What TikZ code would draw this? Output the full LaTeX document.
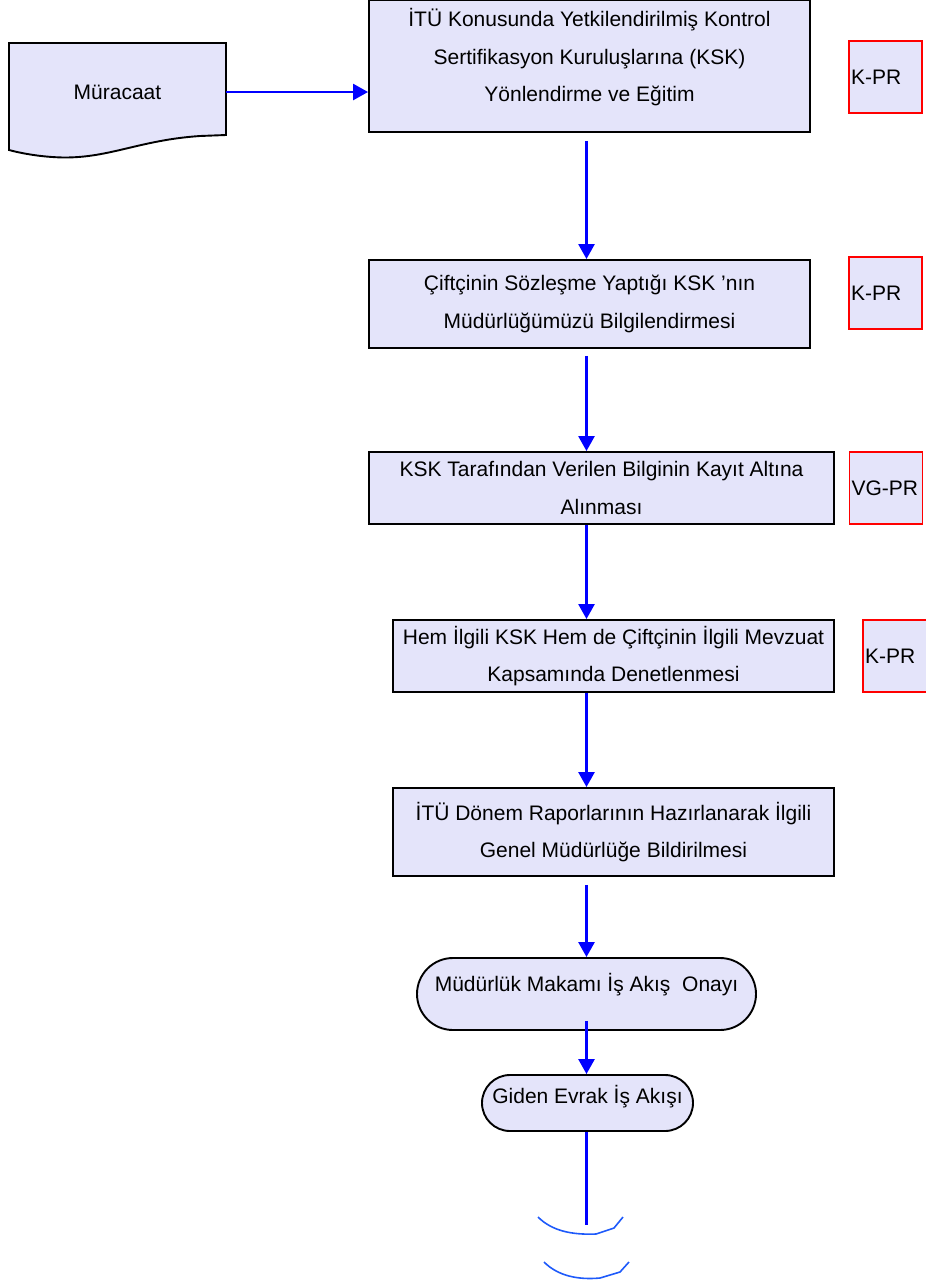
\documentclass[tikz,border=0pt]{standalone}
\usepackage{fontspec}
\setmainfont{Liberation Sans}
\usetikzlibrary{arrows.meta,shapes.misc}
\definecolor{lila}{RGB}{228,228,250}
\definecolor{mavi}{RGB}{0,0,255}
\definecolor{acikmavi}{RGB}{30,90,250}

\begin{document}
\begin{tikzpicture}[x=1pt,y=-1pt,
    metin/.style={font=\fontsize{21}{37.5}\selectfont,align=center,text=black},
    surec/.style={draw=black,line width=1.9pt,fill=lila,rectangle,inner sep=2pt,metin},
    kod/.style={draw=red,line width=1.6pt,fill=lila,rectangle,inner sep=2pt,metin,align=left,text width=69pt,minimum height=72pt},
    uc/.style={draw=black,line width=1.9pt,fill=lila,rounded rectangle,inner sep=2pt,metin},
    ok/.style={draw=mavi,line width=2.6pt,-{Triangle[length=15pt,width=16pt]}},
    kopuk/.style={draw=acikmavi,line width=1.6pt}]
    \useasboundingbox (0,0) rectangle (926,1283);
    % belge
    \draw[line width=1.9pt,fill=lila] (9,43) -- (226,43) -- (226,135) -- (200,136) .. controls (140,140) and (110,158) .. (63,157.5) .. controls (40,157) and (20,153) .. (9,150) -- cycle;
    \node[metin,minimum width=217pt,minimum height=98pt,inner sep=0pt] (muracaat) at (117.5,92) {Müracaat};
    % adimlar
    \node[surec,minimum width=441pt,minimum height=132pt,label={[metin,yshift=8.5pt]center:{İTÜ Konusunda Yetkilendirilmiş Kontrol\\Sertifikasyon Kuruluşlarına (KSK)\\Yönlendirme ve Eğitim}}] (yon) at (589.5,66) {};
    \node[surec,minimum width=441pt,minimum height=88pt] (cift) at (589.5,304) {Çiftçinin Sözleşme Yaptığı KSK ’nın\\Müdürlüğümüzü Bilgilendirmesi};
    \node[surec,minimum width=465pt,minimum height=72pt] (kayit) at (601.5,488) {KSK Tarafından Verilen Bilginin Kayıt Altına\\Alınması};
    \node[surec,minimum width=441pt,minimum height=72pt] (denet) at (613.5,656) {Hem İlgili KSK Hem de Çiftçinin İlgili Mevzuat\\Kapsamında Denetlenmesi};
    \node[surec,minimum width=441pt,minimum height=88pt] (rapor) at (613.5,832) {İTÜ Dönem Raporlarının Hazırlanarak İlgili\\Genel Müdürlüğe Bildirilmesi};
    \node[uc,minimum width=343pt,minimum height=72pt,label={[metin,yshift=9pt]center:{Müdürlük Makamı İş Akış~ Onayı}}] (onay) at (586.5,994) {};
    \node[uc,minimum width=215pt,minimum height=56pt,label={[metin,yshift=6pt]center:{Giden Evrak İş Akışı}}] (giden) at (587.5,1103) {};
    % kodlar
    \node[kod] (kod1) at (885.5,77) {K-PR};
    \node[kod] (kod2) at (885.5,293) {K-PR};
    \node[kod] (kod3) at (886,488) {VG-PR};
    \node[kod] (kod4) at (899.5,656) {K-PR};
    % oklar
    \coordinate (eksen) at (586.5,0);
    \draw[ok] (muracaat.east) -- (muracaat.east -| yon.west);
    \draw[ok,shorten <=8pt] (yon.south -| eksen) -- (cift.north -| eksen);
    \draw[ok,shorten <=7pt] (cift.south -| eksen) -- (kayit.north -| eksen);
    \draw[ok] (kayit.south -| eksen) -- (denet.north -| eksen);
    \draw[ok] (denet.south -| eksen) -- (rapor.north -| eksen);
    \draw[ok,shorten <=8pt] (rapor.south -| eksen) -- (onay.north -| eksen);
    \draw[ok,shorten <=-10pt] (onay.south -| eksen) -- (giden.north -| eksen);
    \coordinate (kopukuc) at (586.5,1225);
    \draw[draw=mavi,line width=2.6pt] (giden.south -| eksen) -- (kopukuc);
    \draw[kopuk] (538,1217) .. controls (552,1231) and (572,1235) .. (596,1234) -- (614,1228) -- (623,1217);
    \draw[kopuk] (544,1262) .. controls (558,1276) and (578,1280) .. (600,1278) -- (620,1272) -- (629,1262);
\end{tikzpicture}
\end{document}
